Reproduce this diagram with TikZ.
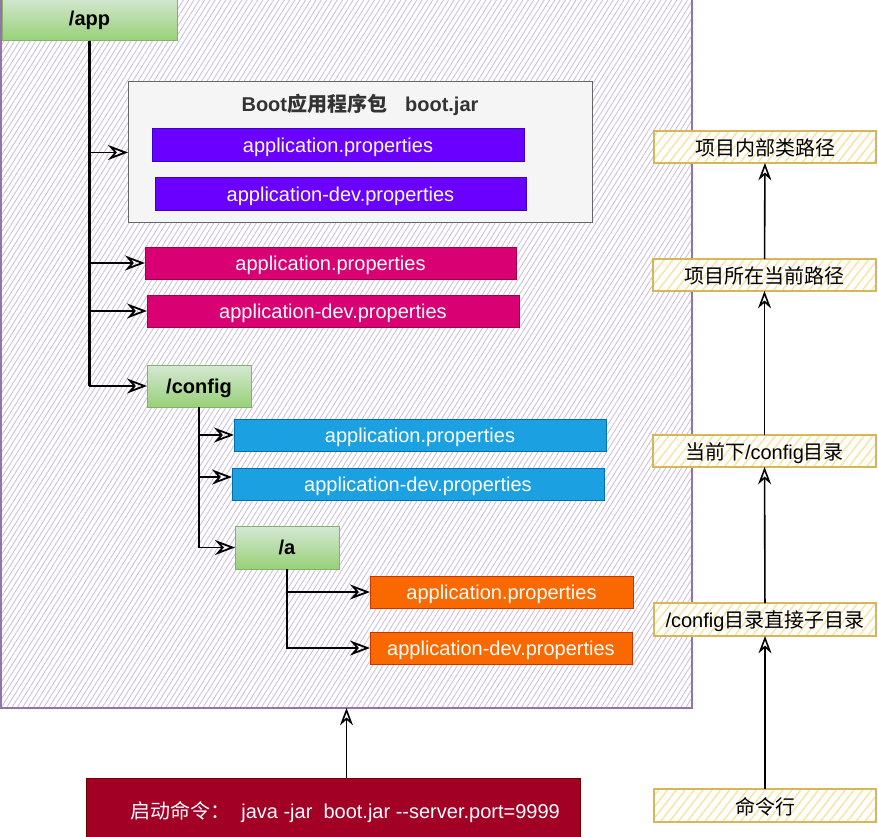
\documentclass[tikz,border=0pt]{standalone}
\usepackage{fontspec}
\setmainfont{Liberation Sans}
\newfontfamily\cjk{Noto Sans CJK SC}
\usetikzlibrary{arrows.meta,patterns.meta}
\definecolor{grnT}{HTML}{D5E8D4}
\definecolor{grnBot}{HTML}{97D077}
\definecolor{grnB}{HTML}{82B366}
\definecolor{purF}{HTML}{6A00FF}
\definecolor{purB}{HTML}{3700CC}
\definecolor{pnkF}{HTML}{D80073}
\definecolor{pnkB}{HTML}{A50040}
\definecolor{bluF}{HTML}{1BA1E2}
\definecolor{bluB}{HTML}{006EAF}
\definecolor{orgF}{HTML}{FA6800}
\definecolor{orgB}{HTML}{C73500}
\definecolor{redF}{HTML}{A20025}
\definecolor{redB}{HTML}{6F0000}
\definecolor{bootF}{HTML}{F5F5F5}
\definecolor{bootB}{HTML}{666666}
\definecolor{bootT}{HTML}{333333}
\definecolor{contB}{HTML}{9673A6}
\definecolor{contH}{HTML}{CFC1DD}
\definecolor{yelB}{HTML}{D6B656}
\definecolor{yelH}{HTML}{F9E3A3}
\newcommand\bx[7]{\node[#6, minimum width={#4-#2}, minimum height={#5-#3}] (#1) at ({(#2+#4)/2},{(#3+#5)/2}) {#7};}
\tikzset{
  base/.style={inner sep=0pt, outer sep=0pt, text depth=0pt, font=\fontsize{20}{24}\selectfont},
  fbox/.style={base, draw, line width=1pt, text=white},
  purbox/.style={fbox, fill=purF, draw=purB},
  pnkbox/.style={fbox, fill=pnkF, draw=pnkB},
  blubox/.style={fbox, fill=bluF, draw=bluB},
  orgbox/.style={fbox, fill=orgF, draw=orgB},
  redbox/.style={fbox, fill=redF, draw=redB},
  grnbox/.style={base, draw=grnB, line width=1pt, top color=grnT, bottom color=grnBot, text=black, font=\bfseries\fontsize{20}{24}\selectfont},
  bootbox/.style={base, draw=bootB, fill=bootF, line width=1pt},
  contbox/.style={base, draw=contB, line width=1.2pt, pattern={Lines[angle=58, distance=4.5pt, line width=0.9pt]}, pattern color=contH},
  ybox/.style={base, draw=yelB, line width=2pt, preaction={fill=white}, pattern={Lines[angle=52, distance=7pt, line width=1.4pt]}, pattern color=yelH, text=black},
  conn/.style={line width=1.8pt, -{Stealth[open, scale=1.8]}},
  trunk/.style={line width=3pt},
  rarr/.style={line width=1.6pt, -{Stealth[open, scale=1.7]}},
}
\begin{document}
\begin{tikzpicture}[x=1pt, y=-1pt]
\clip (0,0) rectangle (878,837);
\fill[white] (0,0) rectangle (878,837);
% container
\bx{cont}{1}{-10}{692}{708}{contbox}{}
% /app
\bx{app}{2}{-4}{177}{41}{grnbox}{/app}
% boot jar
\bx{boot}{128}{82}{592}{223}{bootbox}{}
\node[base, font=\bfseries\fontsize{20}{24}\selectfont, text=bootT] (boottitle) at (360,103) {Boot{\cjk 应用程序包}\hspace{0.9em}boot.jar};
\bx{p1}{152}{129}{524}{162}{purbox}{application.properties}
\bx{p2}{155}{178}{526}{211}{purbox}{application-dev.properties}
% pink
\bx{k1}{145}{247}{516}{279}{pnkbox}{application.properties}
\bx{k2}{147}{295}{519}{327}{pnkbox}{application-dev.properties}
% /config
\bx{cfg}{147}{365}{251}{407}{grnbox}{/config}
\bx{b1}{234}{419}{606}{451}{blubox}{application.properties}
\bx{b2}{232}{468}{604}{500}{blubox}{application-dev.properties}
% /a
\bx{a}{235}{526}{339}{569}{grnbox}{/a}
\bx{o1}{370}{576}{633}{608}{orgbox}{application.properties}
\bx{o2}{370}{632}{632}{664}{orgbox}{application-dev.properties}
% command
\bx{cmd}{86}{778}{580}{842}{redbox}{\hspace*{24pt}{\cjk 启动命令：}\ \ java -jar\ \ boot.jar -{}-server.port=9999}
% right column
\bx{r1}{654}{131}{876}{163}{ybox}{\cjk 项目内部类路径}
\bx{r2}{653}{259}{876}{291}{ybox}{\cjk 项目所在当前路径}
\bx{r3}{653}{435}{876}{467}{ybox}{{\cjk 当前下}/config{\cjk 目录}}
\bx{r4}{654}{603}{876}{636}{ybox}{/config{\cjk 目录直接子目录}}
\bx{r5}{654}{789}{876}{822}{ybox}{\cjk 命令行}
% app tree
\draw[trunk] (app.south) -- (app.south |- cfg.west);
\draw[conn] (app.south) |- (boot.west);
\draw[conn] (app.south) |- (k1.west);
\draw[conn] (app.south) |- (k2.west);
\draw[conn] (app.south) |- (cfg.west);
% config tree
\draw[line width=2.5pt] (cfg.south) -- ++(0,70);
\draw[conn] (cfg.south) |- (b1.west);
\draw[conn] (cfg.south) |- ([yshift=7pt]b2.west);
\draw[conn] (cfg.south) |- (a.west);
% a tree
\draw[conn] (a.south) |- (o1.west);
\draw[conn] (a.south) |- (o2.west);
% command arrow
\draw[rarr] (cmd.north -| cont.south) -- (cont.south);
% right arrows
\draw[rarr] (r5) -- (r4);
\draw[rarr] (r4) -- (r3);
\draw[rarr] (r3) -- (r2);
\draw[rarr] (r2) -- (r1);
\end{tikzpicture}
\end{document}
